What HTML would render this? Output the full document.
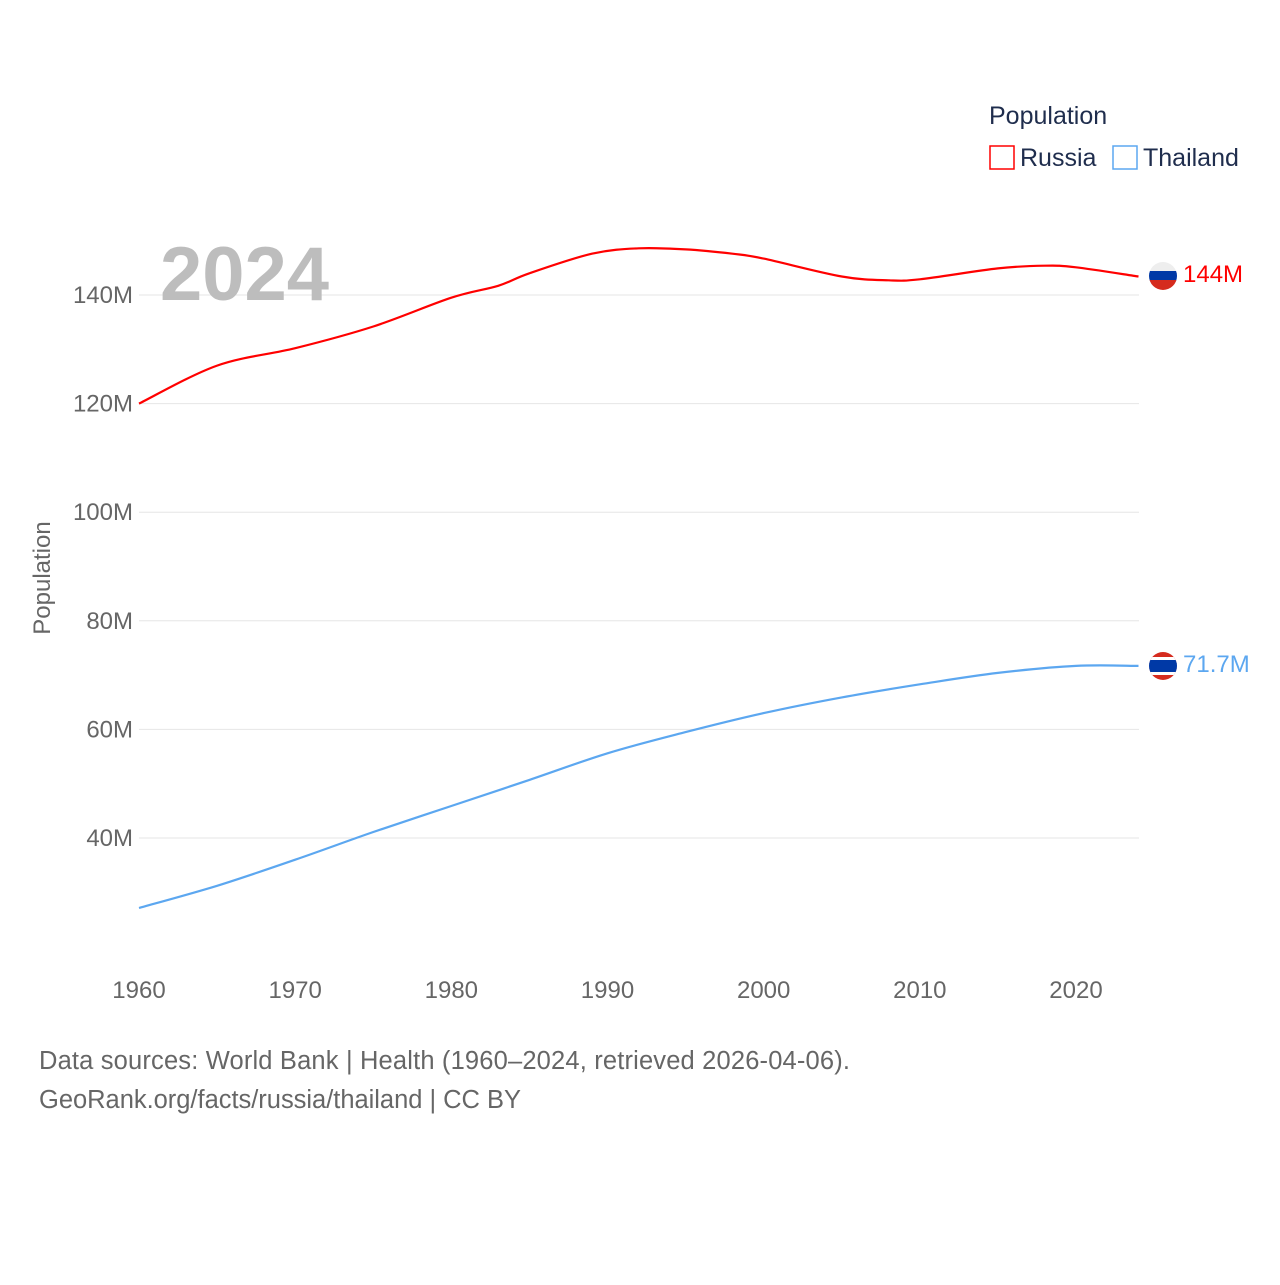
<!DOCTYPE html>
<html><head><meta charset="utf-8">
<style>
html,body{margin:0;padding:0;background:#fff;}
body{width:1280px;height:1280px;overflow:hidden;font-family:"Liberation Sans",sans-serif;}
</style></head>
<body>
<svg id="chart" width="1280" height="1280" xmlns="http://www.w3.org/2000/svg" font-family="Liberation Sans, sans-serif">
  <g id="grid"></g>
  <g id="yticks"></g>
  <g id="xticks"></g>
  <text x="160" y="300" font-size="76" font-weight="bold" fill="#bdbdbd">2024</text>
  <text transform="translate(50,578) rotate(-90)" text-anchor="middle" font-size="24" fill="#666">Population</text>
  <g id="series"></g>
  <g>
    <text x="989" y="124" font-size="25" fill="#1f2d4d">Population</text>
    <rect x="990" y="146" width="24" height="23" fill="none" stroke="#ff0000" stroke-width="1.5"/>
    <text x="1020" y="166" font-size="25" fill="#1f2d4d">Russia</text>
    <rect x="1113" y="146" width="24" height="23" fill="none" stroke="#5ca7f0" stroke-width="1.5"/>
    <text x="1143" y="166" font-size="25" fill="#1f2d4d">Thailand</text>
  </g>
  <g>
    <clipPath id="cr"><circle cx="1163" cy="276" r="14"/></clipPath>
    <g clip-path="url(#cr)"><rect x="1149" y="262" width="28" height="10" fill="#eee"/><rect x="1149" y="271" width="28" height="10" fill="#0039a6"/><rect x="1149" y="280" width="28" height="10" fill="#d52b1e"/></g>
  </g>
  <g>
    <clipPath id="ct"><circle cx="1163" cy="666" r="14"/></clipPath>
    <g clip-path="url(#ct)"><rect x="1149" y="652" width="28" height="28" fill="#d52b1e"/><rect x="1149" y="657" width="28" height="18" fill="#fff"/><rect x="1149" y="660" width="28" height="12" fill="#0039a6"/></g>
  </g>
  <text x="1183" y="282" font-size="24" fill="#ff0000">144M</text>
  <text x="1183" y="672" font-size="24" fill="#5ca7f0">71.7M</text>
  <text x="39" y="1069" font-size="25.5" fill="#666" textLength="811">Data sources: World Bank | Health (1960–2024, retrieved 2026-04-06).</text>
  <text x="39" y="1108" font-size="25.5" fill="#666" textLength="482">GeoRank.org/facts/russia/thailand | CC BY</text>
</svg>
<script>
const years = [1960,1965,1970,1975,1980,1983,1985,1989,1992,1995,1998,2000,2005,2008,2010,2015,2018,2020,2024];
const russia = [120.0,127.0,130.2,134.2,139.5,141.7,144.0,147.6,148.6,148.4,147.6,146.7,143.4,142.7,142.9,144.9,145.4,145.1,143.4];
const thaiYears = [1960,1965,1970,1975,1980,1985,1990,1995,2000,2005,2010,2015,2020,2024];
const thailand = [27.1,31.2,36.0,41.1,45.9,50.7,55.6,59.5,63.0,65.9,68.3,70.4,71.7,71.7];
const yTicks = [40,60,80,100,120,140];
const yTickLabels = ["40M","60M","80M","100M","120M","140M"];
const xTicks = [1960,1970,1980,1990,2000,2010,2020];

const NS = "http://www.w3.org/2000/svg";
function xs(yr){ return 139 + (yr-1960)*(1076-139)/60; }
function ys(v){ return 838 - (v-40)*(838-295)/100; }

const grid = document.getElementById('grid');
const yt = document.getElementById('yticks');
yTicks.forEach((t,i)=>{
  const l = document.createElementNS(NS,'line');
  
  
  l.setAttribute('x1',139); l.setAttribute('x2',1139);
  l.setAttribute('y1',ys(t)); l.setAttribute('y2',ys(t));
  l.setAttribute('stroke','#e6e6e6'); l.setAttribute('stroke-width','1');
  grid.appendChild(l);
  const tx = document.createElementNS(NS,'text');
  
  
  tx.setAttribute('x',133); tx.setAttribute('y',ys(t)+8);
  tx.setAttribute('text-anchor','end'); tx.setAttribute('font-size','24'); tx.setAttribute('fill','#666');
  tx.textContent = yTickLabels[i];
  yt.appendChild(tx);
});
const xt = document.getElementById('xticks');
xTicks.forEach(t=>{
  const tx = document.createElementNS(NS,'text');
  
  
  tx.setAttribute('x',xs(t)); tx.setAttribute('y',998);
  tx.setAttribute('text-anchor','middle'); tx.setAttribute('font-size','24'); tx.setAttribute('fill','#666');
  tx.textContent = t;
  xt.appendChild(tx);
});
const ser = document.getElementById('series');
function drawLine(xsArr, vals, color, name){
  const pts = vals.map((v,i)=>[xs(xsArr[i]), ys(v)]);
  let d = 'M'+pts[0][0].toFixed(1)+','+pts[0][1].toFixed(1);
  for(let i=0;i<pts.length-1;i++){
    const p0=pts[Math.max(0,i-1)], p1=pts[i], p2=pts[i+1], p3=pts[Math.min(pts.length-1,i+2)];
    const c1=[p1[0]+(p2[0]-p0[0])/6, p1[1]+(p2[1]-p0[1])/6];
    const c2=[p2[0]-(p3[0]-p1[0])/6, p2[1]-(p3[1]-p1[1])/6];
    d += ' C'+c1[0].toFixed(1)+','+c1[1].toFixed(1)+' '+c2[0].toFixed(1)+','+c2[1].toFixed(1)+' '+p2[0].toFixed(1)+','+p2[1].toFixed(1);
  }
  const p = document.createElementNS(NS,'path');
  
  
  p.setAttribute('d', d);
  p.setAttribute('fill','none'); p.setAttribute('stroke',color); p.setAttribute('stroke-width','2.2');
  ser.appendChild(p);
}
drawLine(years, russia, '#ff0000', 'line-russia');
drawLine(thaiYears, thailand, '#5ca7f0', 'line-thailand');
</script>
</body></html>
